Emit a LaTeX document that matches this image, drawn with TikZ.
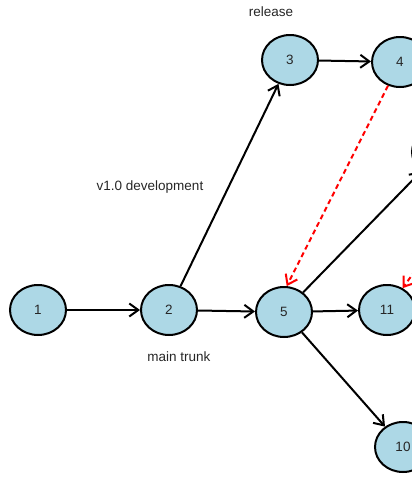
\documentclass[tikz,border=0pt]{standalone}
\usepackage{fontspec}
\setmainfont{Liberation Sans}
\usepackage{xcolor}
\usetikzlibrary{shapes.geometric,arrows.meta}
\definecolor{commitblue}{RGB}{173,216,230}

\begin{document}
\begin{tikzpicture}[x=1pt,y=-1pt,
    commit/.style={ellipse,draw,line width=2pt,fill=commitblue,minimum width=56pt,minimum height=50pt,inner sep=0pt,font=\fontsize{13.5}{15}\selectfont,text=black!85},
    link/.style={line width=2pt,-{Straight Barb[length=9pt,width=13pt]}},
    merge/.style={link,red,dash pattern=on 5pt off 3.5pt},
    tag/.style={font=\fontsize{13.5}{15}\selectfont,text=black!85}]
    \useasboundingbox (0,0) rectangle (412,477);
    \clip (0,0) rectangle (412,477);

    % main trunk
    \node[commit] (c1) at (38,310) {1};
    \node[commit] (c2) at (169,310) {2};
    \node[commit] (c5) at (284,312) {5};
    \node[commit] (c11) at (387,310) {11};
    \node[commit] (c10) at (403,447) {10};
    \node[commit] (cnext) at (440,152) {};

    % release branch
    \node[commit] (c3) at (290,60) {3};
    \node[commit] (c4) at (400,62) {4};
    \coordinate (cmerge) at (460,208);

    % labels
    \node[tag] (trelease) at (271,12) {release};
    \node[tag] (tdev) at (150,187) {v1.0 development};
    \node[tag] (ttrunk) at (179,357) {main trunk};

    \draw[link] (c1) -- (c2);
    \draw[link] (c2) -- (c5);
    \draw[link] (c2) -- (c3);
    \draw[link] (c3) -- (c4);
    \draw[link] (c5) -- (c11);
    \draw[link] (c5) -- (c10);
    \draw[link] (c5) -- (cnext);

    % merges back
    \draw[merge] (c4) -- (c5.84);
    \draw[merge] (cmerge) -- (c11);
\end{tikzpicture}
\end{document}
